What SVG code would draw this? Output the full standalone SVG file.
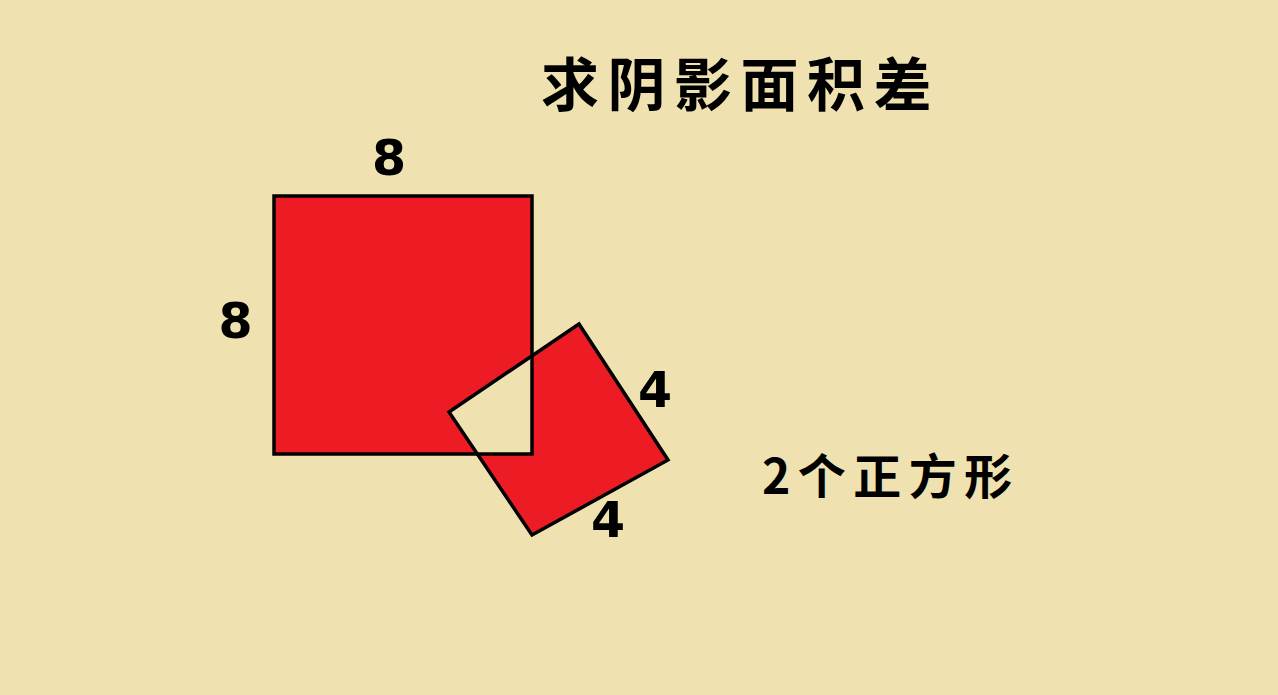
<svg xmlns="http://www.w3.org/2000/svg" width="1278" height="695" viewBox="0 0 1278 695">
<style>
.cjk{font-family:"Noto Sans CJK SC","Noto Sans CJK JP",sans-serif;font-weight:700;fill:#000}
.num{font-family:"DejaVu Sans",sans-serif;font-weight:700;font-size:49px;fill:#000;text-anchor:middle}
.edge{fill:none;stroke:#000;stroke-width:3.5;stroke-linejoin:miter}
</style>
<rect width="1278" height="695" fill="#EFE2B0"/>
<g id="shaded">
<path d="M274,196 H532 V454 H274 Z M449,412 L579,324 L668,460 L532,535 Z" fill="#ED1C24" fill-rule="evenodd"/>
</g>
<g id="big-square">
<rect class="edge" x="274" y="196" width="258" height="258"/>
</g>
<g id="small-square">
<path class="edge" d="M449,412 L579,324 L668,460 L532,535 Z"/>
</g>
<g id="labels">
<text class="cjk" x="541" y="106" font-size="58" letter-spacing="8.5">求阴影面积差</text>
<text class="num" x="389" y="175">8</text>
<text class="num" x="235.5" y="338">8</text>
<text class="num" x="655" y="407">4</text>
<text class="num" x="608" y="537">4</text>
<text class="cjk" x="762" y="494" font-size="48" letter-spacing="7.5">2个正方形</text>
</g>
</svg>
